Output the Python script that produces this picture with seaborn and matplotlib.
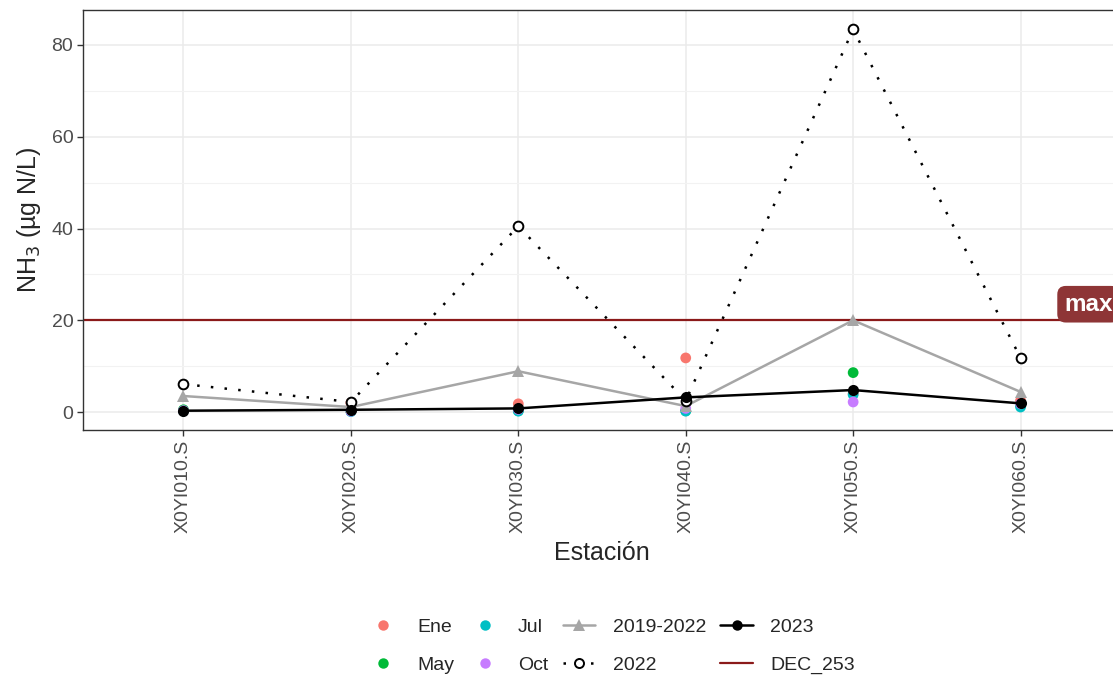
import numpy as np
import pandas as pd
import matplotlib
matplotlib.use("Agg")
import matplotlib.pyplot as plt
from matplotlib.lines import Line2D
from matplotlib.ticker import MultipleLocator
import seaborn as sns

# data
stations = ["X0YI010.S", "X0YI020.S", "X0YI030.S", "X0YI040.S", "X0YI050.S", "X0YI060.S"]
months = ["Ene", "May", "Jul", "Oct"]
ene = [0.3, 2.0, 1.8, 11.8, 4.0, 2.5]
may = [0.5, 0.2, 0.3, 0.3, 8.6, 1.5]
jul = [0.2, 0.1, 0.2, 0.2, 3.8, 1.1]
octu = [0.3, 0.2, 0.6, 0.8, 2.2, 1.8]
hist_2019_2022 = [3.5, 1.1, 8.9, 1.3, 20.0, 4.4]
y2022 = [6.1, 2.2, 40.5, 2.5, 83.4, 11.8]
y2023 = [0.3, 0.5, 0.8, 3.2, 4.8, 1.9]
limit_dec253 = 20

month_colors = {"Ene": "#F8766D", "May": "#00BA38", "Jul": "#00BFC4", "Oct": "#C77CFF"}

pts = pd.DataFrame({
    "station": stations * 4,
    "month": np.repeat(months, len(stations)),
    "value": ene + may + jul + octu,
})
pts["x"] = pts["station"].map({s: i for i, s in enumerate(stations)})
xs = np.arange(len(stations))

sns.set_theme(style="whitegrid")
plt.rcParams["font.family"] = ["Liberation Sans", "DejaVu Sans"]

fig = plt.figure(figsize=(11.13, 6.75), dpi=100)
ax = fig.add_axes([0.0746, 0.363, 0.9326, 0.622])

sns.scatterplot(data=pts, x="x", y="value", hue="month", palette=month_colors,
                s=60, linewidth=0, ax=ax, legend=False, zorder=3)
sns.lineplot(x=xs, y=hist_2019_2022, color="#A6A6A6", lw=1.8, marker="^",
             markersize=8.5, markeredgewidth=0, ax=ax, zorder=4)
sns.lineplot(x=xs, y=y2022, color="black", lw=1.8, linestyle=(0, (1, 4.5)),
             marker="o", markersize=7, markerfacecolor="white",
             markeredgecolor="black", markeredgewidth=1.4, ax=ax, zorder=5)
sns.lineplot(x=xs, y=y2023, color="black", lw=1.8, marker="o",
             markersize=8, markeredgewidth=0, ax=ax, zorder=6)
ax.axhline(limit_dec253, color="#8B1A1A", lw=1.6, zorder=2)
ax.text(5.26, limit_dec253 + 1.0, "max", color="white", fontsize=17.5,
        fontweight="bold", ha="left", va="bottom", zorder=7, clip_on=False,
        bbox=dict(boxstyle="round,pad=0.28,rounding_size=0.35",
                  fc="#8E3536", ec="none"))

ax.set_xlim(-0.6, 5.6)
ax.set_ylim(-3.9, 87.6)
ax.set_xticks(xs)
ax.set_xticklabels(stations, rotation=90, fontsize=14, color="#4D4D4D")
ax.yaxis.set_major_locator(MultipleLocator(20))
ax.yaxis.set_minor_locator(MultipleLocator(10))
ax.tick_params(axis="y", labelsize=14, labelcolor="#4D4D4D")
ax.tick_params(axis="both", which="major", length=4, width=1, color="#333333",
               direction="out", bottom=True, left=True, pad=3)
ax.grid(which="major", color="#EBEBEB", lw=1.1)
ax.grid(which="minor", axis="y", color="#F2F2F2", lw=0.8)
for sp in ax.spines.values():
    sp.set_color("#333333")
    sp.set_linewidth(1.0)
ax.set_xlabel("Estación", fontsize=18, labelpad=6)
ax.set_ylabel("NH$_3$ (µg N/L)", fontsize=18, labelpad=6)

handles = [
    Line2D([], [], ls="none", marker="o", markersize=7.5, markeredgewidth=0, color=month_colors["Ene"]),
    Line2D([], [], ls="none", marker="o", markersize=7.5, markeredgewidth=0, color=month_colors["May"]),
    Line2D([], [], ls="none", marker="o", markersize=7.5, markeredgewidth=0, color=month_colors["Jul"]),
    Line2D([], [], ls="none", marker="o", markersize=7.5, markeredgewidth=0, color=month_colors["Oct"]),
    Line2D([], [], color="#A6A6A6", lw=1.8, marker="^", markersize=8.5, markeredgewidth=0),
    Line2D([], [], color="black", lw=1.8, ls=(0, (1, 4.5)), marker="o", markersize=6.5,
           markerfacecolor="white", markeredgewidth=1.4),
    Line2D([], [], color="black", lw=1.8, marker="o", markersize=7.5, markeredgewidth=0),
    Line2D([], [], color="#8B1A1A", lw=1.6),
]
labels = ["Ene", "May", "Jul", "Oct", "2019-2022", "2022", "2023", "DEC_253"]
fig.legend(handles, labels, ncol=4, loc="center", bbox_to_anchor=(0.549, 0.043),
           frameon=False, fontsize=14, handlelength=1.65, columnspacing=0.75,
           labelspacing=1.05, handletextpad=0.9)

fig.savefig("out.png", dpi=100)
